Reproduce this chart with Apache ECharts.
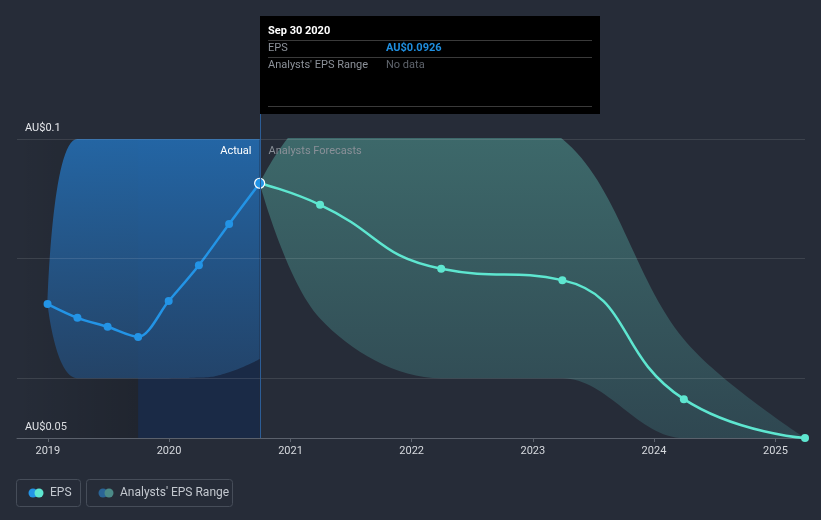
<!DOCTYPE html>
<html>
<head>
<meta charset="utf-8">
<script src="https://cdn.jsdelivr.net/npm/echarts@6/dist/echarts.min.js"></script>
<style>
  html, body { margin: 0; padding: 0; background: #262c38; }
  #chart { width: 821px; height: 520px; }
</style>
</head>
<body>
<div id="chart"></div>
<script>
// actual EPS, quarterly (trailing)
const actualDates = ['2018-12-31', '2019-03-31', '2019-06-30', '2019-09-30', '2019-12-31', '2020-03-31', '2020-06-30', '2020-09-30']
const actualEps = [0.0724, 0.0701, 0.0686, 0.0669, 0.0729, 0.0789, 0.0858, 0.0926]
const actualLow = [0.0724, 0.0600, 0.0600, 0.0600, 0.0600, 0.0601, 0.0610, 0.0632]
const actualHigh = [0.0724, 0.1000, 0.1000, 0.1000, 0.1000, 0.1000, 0.1000, 0.1000]

// analyst forecasts
const forecastDates = ['2020-09-30', '2021-03-31', '2022-03-31', '2023-03-31', '2024-03-31', '2025-03-31']
const forecastEps = [0.0926, 0.0890, 0.0783, 0.0764, 0.0565, 0.0500]
const forecastLow = [0.0926, 0.0700, 0.0600, 0.0600, 0.0500, 0.0500]
const forecastHigh = [0.0926, 0.1040, 0.1040, 0.1000, 0.0665, 0.0500]

const gridValues = [0.06, 0.08, 0.1]
const yLabelValues = [0.05, 0.1]
const pastShade = ['2018-09-30', '2019-09-30', '2020-09-30']
const nowDate = '2020-09-30'
const xMin = '2018-09-30'
const xMax = '2025-03-31'

const BLUE = '#2394e6'
const TEAL = '#5ee6d0'
const FONT = 'Roboto, "Noto Sans", sans-serif'

const zip = (xs, ys) => xs.map((x, i) => [x, ys[i]])

function bandSeries(id, dates, low, high, smooth, topColor, bottomColor) {
  return [
    {
      id: id + '-base', type: 'line', stack: id, smooth, symbol: 'none',
      data: zip(dates, low), lineStyle: { opacity: 0 }, silent: true, z: 1,
    },
    {
      id: id + '-span', type: 'line', stack: id, smooth, symbol: 'none',
      data: zip(dates, high.map((h, i) => h - low[i])),
      lineStyle: { opacity: 0 }, silent: true, z: 1,
      areaStyle: {
        opacity: 1,
        color: new echarts.graphic.LinearGradient(0, 0, 0, 1, [
          { offset: 0, color: topColor },
          { offset: 1, color: bottomColor },
        ]),
      },
    },
  ]
}

const chart = echarts.init(document.getElementById('chart'), null, { renderer: 'canvas' })

const option = {
  animation: false,
  backgroundColor: '#262c38',
  textStyle: { fontFamily: FONT },
  grid: { left: 17, right: 16, top: 139, bottom: 82 },
  xAxis: {
    type: 'time',
    min: xMin,
    max: xMax,
    minInterval: 365 * 86400000,
    axisLine: { lineStyle: { color: '#5b616c', width: 1 } },
    axisTick: { show: true, length: 4, lineStyle: { color: '#5b616c' } },
    axisLabel: {
      color: '#d6d9de', fontSize: 11, margin: 8, fontFamily: FONT,
      showMinLabel: false, showMaxLabel: false,
      formatter: (v) => {
        const d = new Date(v)
        return d.getMonth() === 0 && d.getDate() === 1 ? String(d.getFullYear()) : ''
      },
    },
    splitLine: { show: false },
  },
  yAxis: {
    type: 'value',
    min: 0.05,
    max: 0.1,
    interval: 0.01,
    axisLine: { show: false },
    axisTick: { show: false },
    splitLine: { show: false },
    axisLabel: {
      inside: true, margin: 8, color: '#e6e8ec', fontSize: 11, fontFamily: FONT,
      verticalAlign: 'bottom', padding: [0, 0, 5, 0],
      formatter: (v) => {
        const hit = yLabelValues.find(l => Math.abs(l - v) < 1e-6)
        return hit === undefined ? '' : 'AU$' + hit
      },
    },
  },
  series: [
    // past shading behind everything
    {
      id: 'shade', type: 'line', data: [], silent: true, z: 0,
      markArea: {
        silent: true,
        data: [
          [{ xAxis: pastShade[0], itemStyle: { color: new echarts.graphic.LinearGradient(0, 0, 1, 0, [
            { offset: 0, color: 'rgba(0,0,0,0)' }, { offset: 1, color: 'rgba(0,0,0,0.16)' }]) } },
           { xAxis: pastShade[1] }],
          [{ xAxis: pastShade[1], itemStyle: { color: 'rgba(10,40,90,0.42)' } }, { xAxis: pastShade[2] }],
        ],
      },
    },
    ...bandSeries('actualRange', actualDates, actualLow, actualHigh, 0.5, 'rgba(36,106,172,0.93)', 'rgba(36,72,112,0.85)'),
    ...bandSeries('forecastRange', forecastDates, forecastLow, forecastHigh, 0.35, '#3e6b6c', '#2f4751'),
    {
      id: 'grid-lines', type: 'line', data: [], silent: true, z: 2,
      markLine: {
        silent: true, symbol: 'none', label: { show: false },
        lineStyle: { color: 'rgba(255,255,255,0.11)', type: 'solid', width: 1 },
        data: gridValues.map(v => ({ yAxis: v })),
      },
    },
    {
      id: 'forecast', name: 'EPS', type: 'line', smooth: true, z: 3,
      data: zip(forecastDates, forecastEps),
      symbol: 'circle', symbolSize: 8,
      itemStyle: { color: TEAL },
      lineStyle: { color: TEAL, width: 2.5 },
    },
    {
      id: 'actual', name: 'EPS', type: 'line', smooth: 0.3, z: 4,
      data: zip(actualDates, actualEps).map((p, i, arr) => i === arr.length - 1
        ? { value: p, symbolSize: 10, itemStyle: { color: BLUE, borderColor: '#ffffff', borderWidth: 1.2 } }
        : p),
      symbol: 'circle', symbolSize: 8,
      itemStyle: { color: BLUE },
      lineStyle: { color: BLUE, width: 2.5 },
    },
  ],
}

chart.setOption(option)

// overlay: divider, tooltip box, section labels, legend
const nowX = Math.round(chart.convertToPixel({ xAxisIndex: 0 }, nowDate)) + 0.5
const bottomY = chart.convertToPixel({ yAxisIndex: 0 }, 0.05)
const topY = chart.convertToPixel({ yAxisIndex: 0 }, 0.1)
const lastEps = actualEps[actualEps.length - 1]
const tipX = nowX - 0.5
const tipW = 340

const txt = (x, y, text, color, opts = {}) => ({
  type: 'text', x, y, silent: true, z: 20,
  style: Object.assign({ text, fill: color, font: '11px ' + FONT, textVerticalAlign: 'middle' }, opts),
})
const hline = (x1, x2, y, color) => ({
  type: 'line', silent: true, z: 20, shape: { x1, y1: y + 0.5, x2, y2: y + 0.5 }, style: { stroke: color, lineWidth: 1 },
})

function legendItem(x, w, c1, c2, label) {
  return [
    { type: 'rect', silent: true, z: 20, shape: { x: x + 0.5, y: 479.5, width: w, height: 27, r: 3 },
      style: { fill: 'transparent', stroke: '#464d59', lineWidth: 1 } },
    { type: 'circle', silent: true, z: 20, shape: { cx: x + 17, cy: 493, r: 4.5 }, style: { fill: c1 } },
    { type: 'circle', silent: true, z: 21, shape: { cx: x + 23, cy: 493, r: 4.5 }, style: { fill: c2 } },
    txt(x + 34, 493, label, '#c3c8cf', { font: '12px ' + FONT }),
  ]
}

chart.setOption({
  graphic: [
    { type: 'line', silent: true, z: 10,
      shape: { x1: nowX, y1: 114, x2: nowX, y2: bottomY }, style: { stroke: '#2c5d96', lineWidth: 1 } },
    { type: 'rect', silent: true, z: 10, shape: { x: tipX, y: 16, width: tipW, height: 98 }, style: { fill: '#000000' } },
    txt(tipX + 8, 31, 'Sep 30 2020', '#ffffff', { font: 'bold 11px ' + FONT }),
    hline(tipX + 8, tipX + tipW - 8, 40, '#3a3a3a'),
    txt(tipX + 8, 48, 'EPS', '#8c9199'),
    txt(tipX + 126, 48, 'AU$' + lastEps.toFixed(4), '#1f8fe0', { font: 'bold 11px ' + FONT }),
    hline(tipX + 8, tipX + tipW - 8, 57, '#3a3a3a'),
    txt(tipX + 8, 65, "Analysts' EPS Range", '#8c9199'),
    txt(tipX + 126, 65, 'No data', '#5f646c'),
    hline(tipX + 8, tipX + tipW - 8, 106, '#3a3a3a'),
    txt(nowX - 9, topY + 12, 'Actual', '#ffffff', { align: 'right', textAlign: 'right' }),
    txt(nowX + 8, topY + 12, 'Analysts Forecasts', '#8a9098'),
    ...legendItem(16, 64, BLUE, TEAL, 'EPS'),
    ...legendItem(86, 146, '#2a6496', '#4b8a87', "Analysts' EPS Range"),
  ],
})
</script>
</body>
</html>
